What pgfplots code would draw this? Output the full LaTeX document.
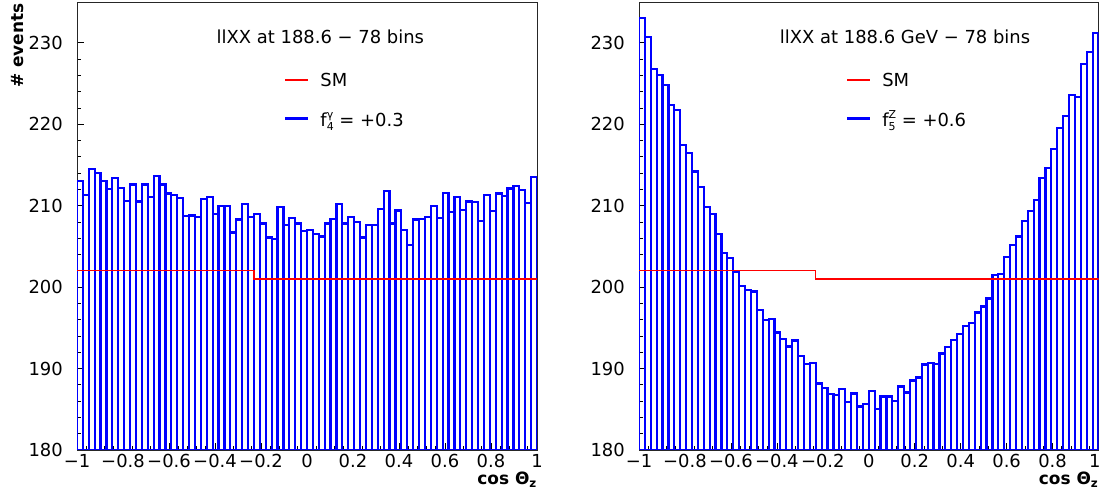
\documentclass[border=0pt]{standalone}
\usepackage{fontspec}
\setmainfont{DejaVu Sans}
\usepackage{pgfplots}
\pgfplotsset{compat=1.18}
\usepackage{pgfplotstable}

% bin index (0..78, 78 bins over cos Theta from -1 to 1), bin content
\pgfplotstableread{
x y
0 213.0
1 211.35
2 214.5
3 214.0
4 213.0
5 212.0
6 213.4
7 212.2
8 210.6
9 212.6
10 210.5
11 212.6
12 211.1
13 213.6
14 212.6
15 211.5
16 211.35
17 210.9
18 208.7
19 208.8
20 208.6
21 210.8
22 211.1
23 209.0
24 210.0
25 210.0
26 206.7
27 208.3
28 210.2
29 208.6
30 209.0
31 207.8
32 206.1
33 205.9
34 209.8
35 207.6
36 208.5
37 207.8
38 206.9
39 207.0
40 206.5
41 206.2
42 207.8
43 208.4
44 210.2
45 207.8
46 208.6
47 208.0
48 206.1
49 207.6
50 207.6
51 209.6
52 211.8
53 207.8
54 209.4
55 207.0
56 205.2
57 208.3
58 208.4
59 208.6
60 210.0
61 208.5
62 211.6
63 209.2
64 211.1
65 209.5
66 210.5
67 210.4
68 208.1
69 211.3
70 209.3
71 211.5
72 211.2
73 212.1
74 212.4
75 211.9
76 210.3
77 213.5
78 213.5
}\leftdata

\pgfplotstableread{
x y
0 233.07
1 230.74
2 226.77
3 226.04
4 224.77
5 222.36
6 221.74
7 217.45
8 216.51
9 214.18
10 212.29
11 209.80
12 208.98
13 206.53
14 204.16
15 203.62
16 201.91
17 200.15
18 199.66
19 199.45
20 197.16
21 195.98
22 196.06
23 194.42
24 193.60
25 192.70
26 193.44
27 191.56
28 190.58
29 190.66
30 188.16
31 187.59
32 186.90
33 186.73
34 187.47
35 185.91
36 186.94
37 185.34
38 185.63
39 187.22
40 185.05
41 186.57
42 186.57
43 186.04
44 187.79
45 187.06
46 188.53
47 188.90
48 190.50
49 190.66
50 190.58
51 191.84
52 192.66
53 193.55
54 194.26
55 195.24
56 195.57
57 196.88
58 197.61
59 198.59
60 201.46
61 201.58
62 203.71
63 205.18
64 206.20
65 208.08
66 209.39
67 210.70
68 213.40
69 214.59
70 216.92
71 219.53
72 221.01
73 223.58
74 223.38
75 227.35
76 228.90
77 231.15
78 231.15
}\rightdata

\pgfplotstableread{
x y
0 202
30 201
78 201
}\smdata

\newcommand{\scripts}[2]{\raisebox{-4.5bp}{\fontsize{11}{12.5}\selectfont\begin{tabular}[b]{@{}l@{}}#1\\#2\end{tabular}}}

\pgfplotsset{
  histax/.style={
    scale only axis, width=460bp, height=448bp,
    xmin=0, xmax=78, ymin=180, ymax=235,
    xtick={0,7.8,15.6,23.4,31.2,39,46.8,54.6,62.4,70.2,78},
    ytick={180,190,200,210,220,230},
    minor x tick num=4, minor y tick num=4,
    tick pos=left, tick align=inside,
    major tick length=7bp, minor tick length=3.5bp,
    every tick/.style={black, line width=0.7bp},
    axis line style={line width=0.8bp, black!85},
    /pgf/number format/assume math mode=true,
    ticklabel style={font=\fontsize{18}{21}\selectfont},
    yticklabel style={inner sep=0pt, xshift=-14bp},
    xticklabel style={inner sep=0pt, yshift=-4bp},
    xlabel={cos Θ\textsubscript{z}},
    xlabel style={at={(axis description cs:1,0)}, anchor=north east,
      yshift=-22bp, inner sep=0pt, font=\fontsize{17}{20}\selectfont\bfseries},
    legend image code/.code={\draw[#1, line width=2.5bp] (0bp,0bp) -- (23bp,0bp);},
    legend cell align=left,
    legend style={draw=none, fill=none, inner sep=0pt, outer sep=0pt,
      at={(axis description cs:0.45,0.842)}, anchor=north west,
      row sep=22bp, column sep=11bp,
      font=\fontsize{18}{21}\selectfont, nodes={inner sep=0pt}},
  }
}

\begin{document}
\begin{tikzpicture}
\path[use as bounding box] (0,0) rectangle (1101bp,500bp);

\begin{axis}[histax, at={(77bp,50bp)}, anchor=south west,
  xticklabels={−1,−0.8,−0.6,−0.4,−0.2,0,0.2,0.4,0.6,0.8,1},
  ylabel={\# events},
  ylabel style={at={(axis description cs:-0.1167,0.997)}, anchor=base east,
    inner sep=0pt, font=\fontsize{17}{20}\selectfont\bfseries}]
\addplot[draw=blue, line width=2.2bp, fill=none, ybar interval, forget plot] table[x=x, y=y] {\leftdata};
\addplot[red, line width=1.3bp, const plot, forget plot] table[x=x, y=y] {\smdata};
\addlegendimage{red}
\addlegendentry{SM}
\addlegendimage{blue}
\addlegendentry{f\scripts{γ}{4} = +0.3}
\node[font=\fontsize{18}{21}\selectfont] at (axis description cs:0.529,0.9225) {llXX at 188.6 − 78 bins};
\end{axis}

\begin{axis}[histax, at={(639bp,50bp)}, anchor=south west, width=459.5bp,
  xticklabels={−1,−0.8,−0.6,−0.4,−0.2,0,0.2,0.4,0.6,0.8,\makebox[0pt][r]{1\kern-2bp}}]
\addplot[draw=blue, line width=2.2bp, fill=none, ybar interval, forget plot] table[x=x, y=y] {\rightdata};
\addplot[red, line width=1.3bp, const plot, forget plot] table[x=x, y=y] {\smdata};
\addlegendimage{red}
\addlegendentry{SM}
\addlegendimage{blue}
\addlegendentry{f\scripts{Z}{5} = +0.6}
\node[font=\fontsize{18}{21}\selectfont] at (axis description cs:0.579,0.9225) {llXX at 188.6 GeV − 78 bins};
\end{axis}
\end{tikzpicture}
\end{document}
